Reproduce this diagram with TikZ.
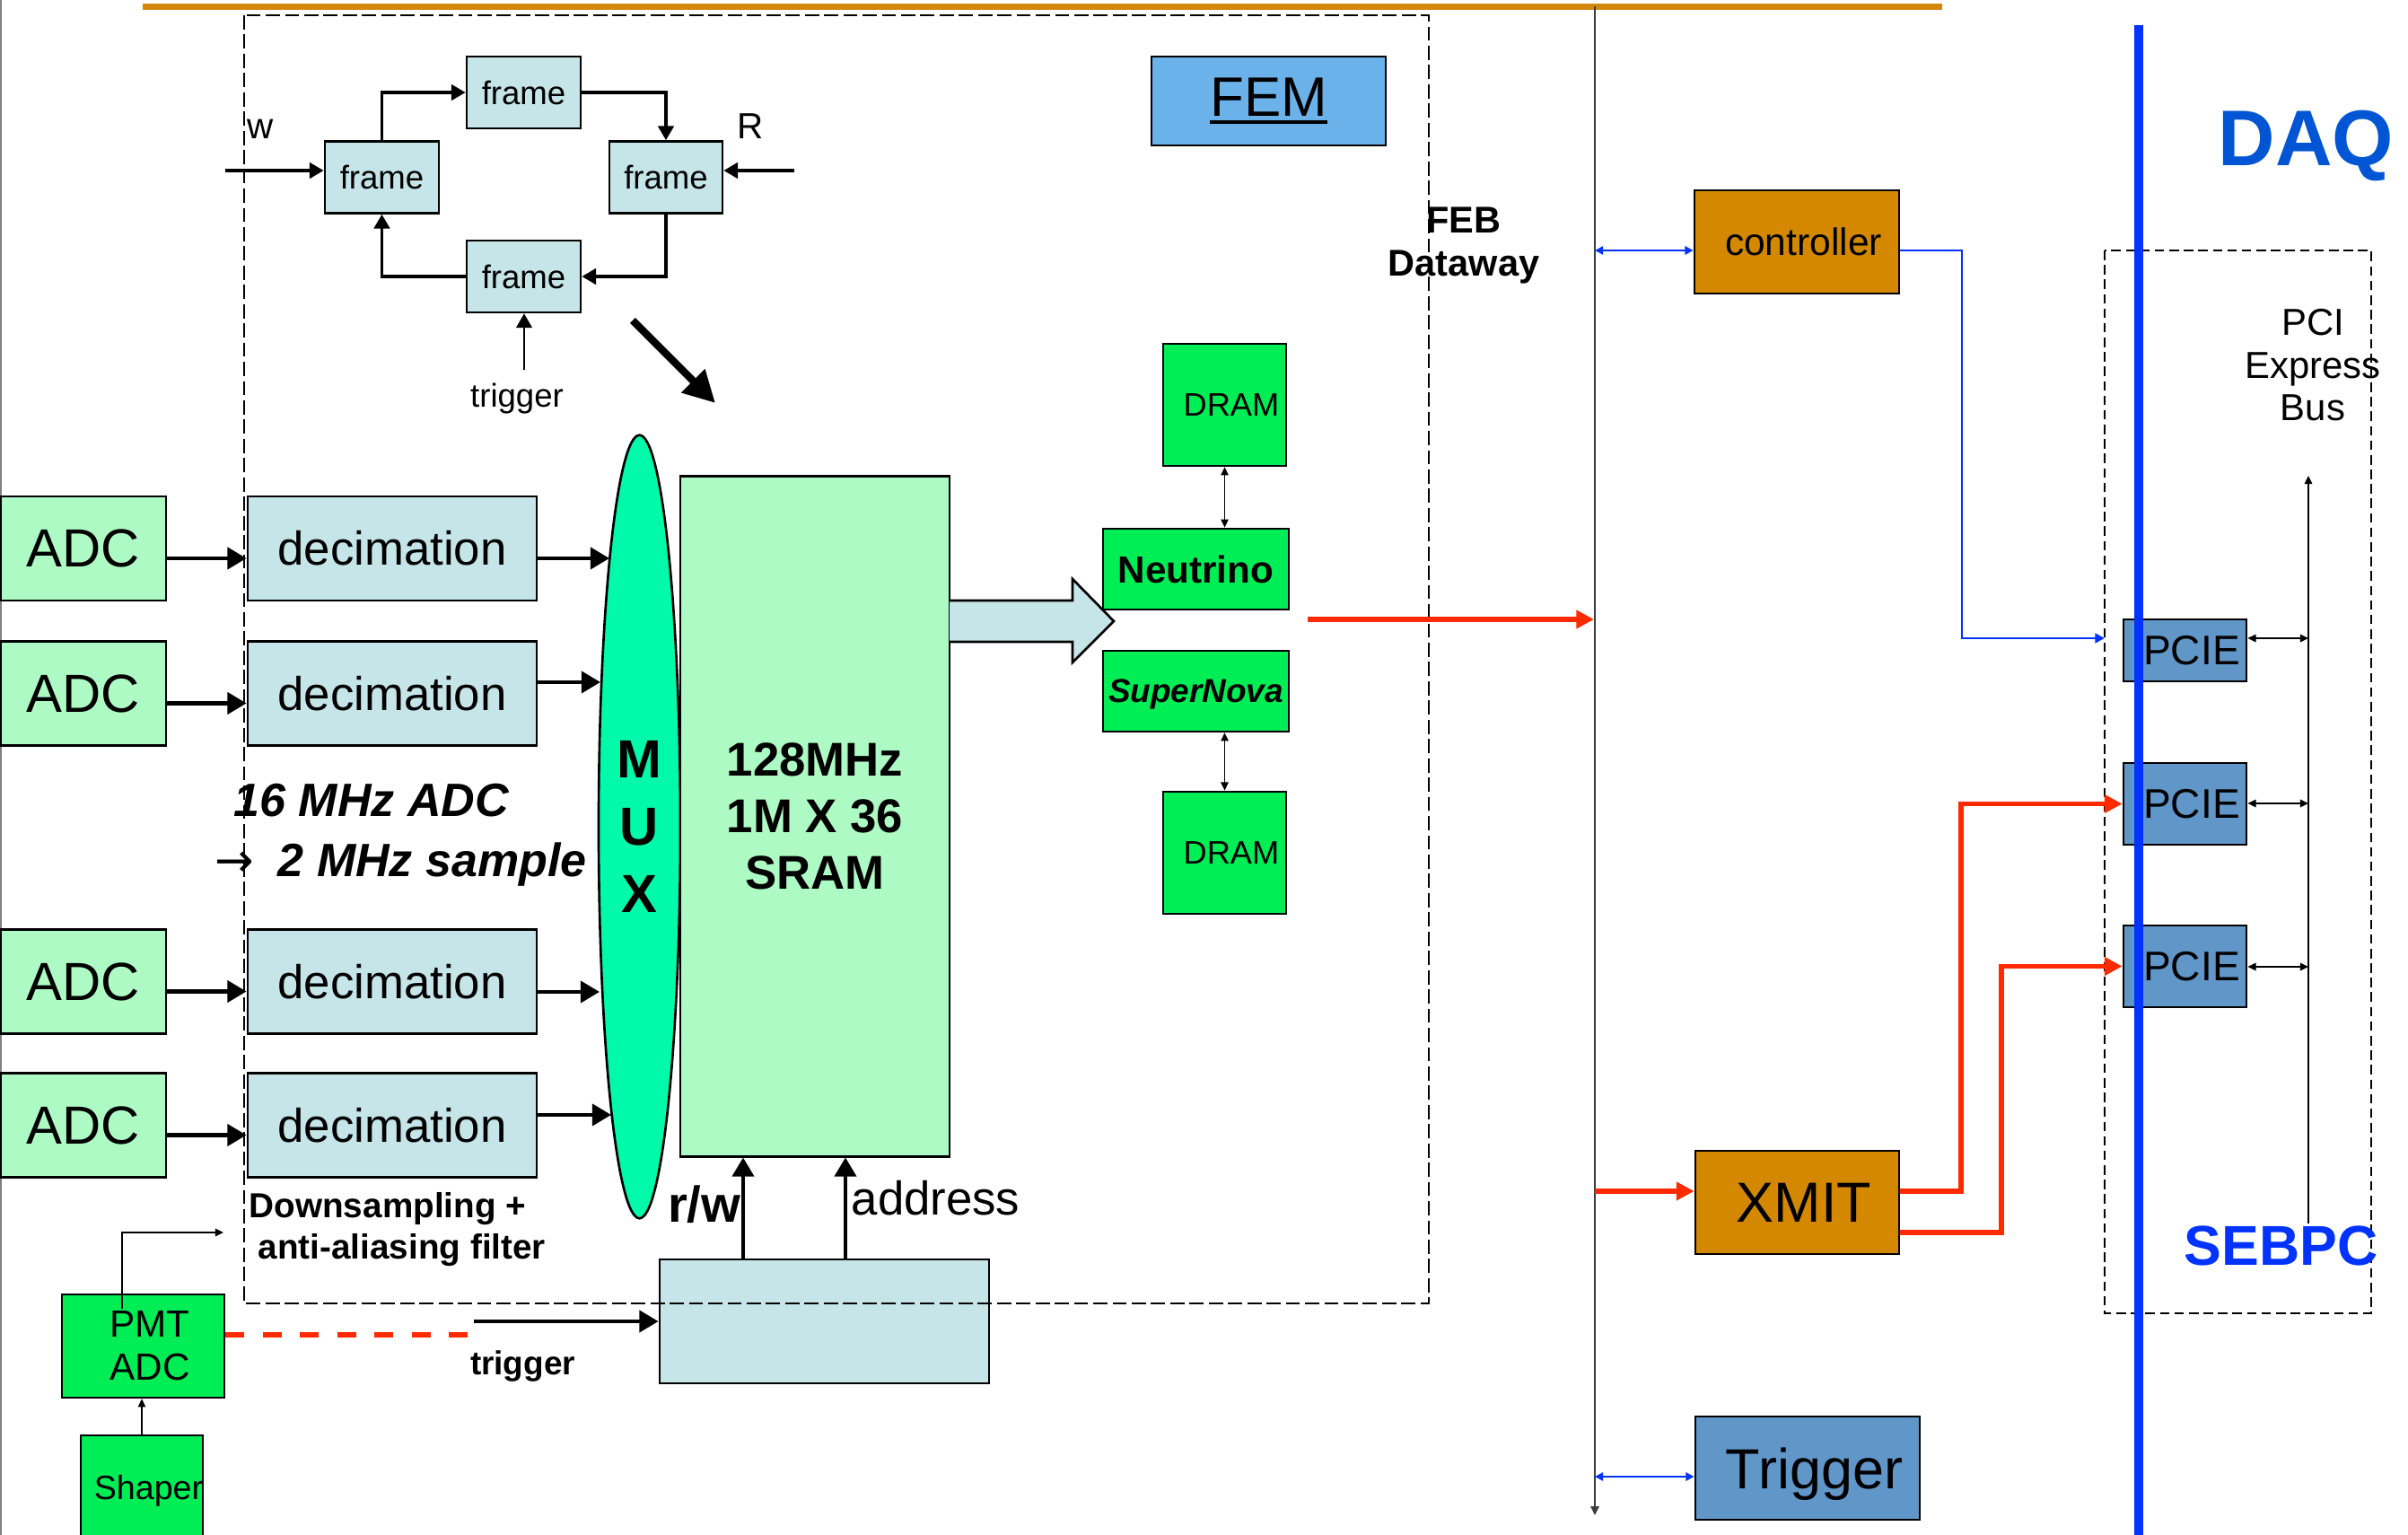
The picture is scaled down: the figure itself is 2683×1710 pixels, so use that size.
\documentclass[tikz,border=0pt]{standalone}
\usepackage{fontspec}
\setmainfont{Liberation Sans}
\newfontfamily\arrowfont{DejaVu Sans}
\usetikzlibrary{arrows.meta,shapes.geometric}

\definecolor{adcgreen}{RGB}{174,250,197}
\definecolor{paleblue}{RGB}{197,229,232}
\definecolor{muxgreen}{RGB}{0,250,170}
\definecolor{brightgreen}{RGB}{0,238,85}
\definecolor{femblue}{RGB}{108,178,234}
\definecolor{steelblue}{RGB}{96,150,200}
\definecolor{amber}{RGB}{211,136,0}
\definecolor{sigred}{RGB}{255,42,0}
\definecolor{linkblue}{RGB}{0,51,255}
\definecolor{daqblue}{RGB}{0,85,212}
\definecolor{topline}{RGB}{212,136,11}
\definecolor{wiregray}{RGB}{60,60,60}

\newcommand\fsz[2]{\fontsize{#1}{#2}\selectfont}
\newcommand\nudge{\hspace*{0.15cm}}
\newcommand\thickul[1]{\setbox0\hbox{#1}\rlap{\rule[-2.6pt]{\wd0}{1.2pt}}\box0}

\begin{document}
\begin{tikzpicture}[x=0.01cm, y=-0.01cm,
  box/.style={draw=black, line width=0.75pt, inner sep=0pt, align=center},
  fat/.style={line width=1.2pt, -{Triangle[length=6pt,width=6.8pt]}},
  ring/.style={line width=0.9pt, -{Triangle[length=4.5pt,width=5pt]}},
  thinarr/.style={line width=0.5pt, -{Triangle[length=2.6pt,width=2.4pt]}},
  thinboth/.style={line width=0.5pt, {Triangle[length=2.6pt,width=2.4pt]}-{Triangle[length=2.6pt,width=2.4pt]}},
  bluearr/.style={draw=linkblue, line width=0.8pt, -{Triangle[length=3pt,width=3pt]}},
  blueboth/.style={draw=linkblue, line width=0.8pt, {Triangle[length=2.6pt,width=2.6pt]}-{Triangle[length=2.6pt,width=2.6pt]}},
  redarr/.style={draw=sigred, line width=1.6pt, -{Triangle[length=5.6pt,width=5.6pt]}},
  lbl/.style={inner sep=0pt}]

\useasboundingbox (0,0) rectangle (2683,1710);

% page edge and header rule
\draw[gray, line width=0.6pt] (1,0) -- (1,1710);
\draw[topline, line width=2pt] (159,7.5) -- (2164,7.5);

% ---- frame ring buffer ----
\begin{scope}[every node/.style={box, fill=paleblue, minimum height=0.80cm, font=\fsz{10.4pt}{12pt}}]
  \node[minimum width=1.27cm] (fT) at (583.5,103) {frame};
  \node[minimum width=1.27cm] (fL) at (425.5,197.5) {frame};
  \node[minimum width=1.26cm] (fR) at (742,197.5) {frame};
  \node[minimum width=1.27cm] (fB) at (583.5,308) {frame};
\end{scope}
\draw[ring] (fL.north) |- (fT.west);
\draw[ring] (fT.east) -| (fR.north);
\draw[ring] (fR.south) |- (fB.east);
\draw[ring] (fB.west) -| (fL.south);
\coordinate (wIn) at (251,190);
\coordinate (rIn) at (885,190);
\coordinate (trIn) at (584,412);
\draw[ring] (wIn) -- (wIn -| fL.west);
\draw[ring] (rIn) -- (rIn -| fR.east);
\draw[ring, line width=0.6pt] (trIn) -- (trIn |- fB.south);
\node[lbl, anchor=base, font=\fsz{11.5pt}{13pt}] (wlab) at (290,155) {w};
\node[lbl, anchor=base, font=\fsz{11.5pt}{13pt}] (rlab) at (836,155) {R};
\node[lbl, anchor=base, font=\fsz{10.4pt}{12pt}] (trtop) at (576,454) {trigger};
\coordinate (diagA) at (705,357);
\coordinate (diagB) at (797,449);
\draw[line width=2.4pt, -{Triangle[length=10pt,width=10pt]}] (diagA) -- (diagB);

% ---- FEM title ----
\node[box, fill=femblue, minimum width=2.61cm, minimum height=0.99cm, font=\fsz{17.6pt}{20pt}] (fem) at (1413.5,112.5) {\thickul{FEM}};

% ---- ADC / decimation channels ----
\foreach \i/\y in {1/611,2/772.5,3/1093.5,4/1253.5} {
  \node[box, fill=adcgreen, minimum width=1.84cm, minimum height=1.16cm, font=\fsz{17pt}{20pt}] (adc\i) at (93,\y) {ADC};
  \node[box, fill=paleblue, minimum width=3.22cm, minimum height=1.16cm, font=\fsz{15pt}{18pt}] (dec\i) at (437,\y) {decimation};
  \draw[fat] ([yshift=-0.11cm]adc\i.east) -- ([yshift=-0.11cm]dec\i.west);
}

% ---- MUX and SRAM ----
\node[ellipse, draw=black, line width=0.75pt, fill=muxgreen, minimum width=0.91cm, minimum height=8.72cm,
      inner sep=0pt, align=center, font=\bfseries\fsz{17pt}{21.3pt}] (mux) at (712.5,921) {M\\U\\X};
\node[box, fill=adcgreen, minimum width=3.00cm, minimum height=7.57cm, font=\bfseries\fsz{15pt}{17.9pt}] (sram) at (908,909.5) {128MHz\\1M X 36\\SRAM};

\coordinate (m1) at (679,622);
\coordinate (m2) at (669,760);
\coordinate (m3) at (668,1105);
\coordinate (m4) at (681,1242);
\foreach \i in {1,2,3,4} { \draw[fat] (dec\i.east |- m\i) -- (m\i); }

\node[lbl, anchor=base west, font=\bfseries\itshape\fsz{14.8pt}{17pt}] (rate1) at (260,910) {16 MHz ADC};
\node[lbl, anchor=base west, font=\bfseries\itshape\fsz{14.8pt}{17pt}] (rate2) at (239,977) {{\arrowfont\mdseries\upshape →}\hspace{7.5pt}2 MHz sample};
\node[lbl, anchor=base west, font=\bfseries\fsz{11pt}{13pt}] (ds1) at (277,1357) {Downsampling +};
\node[lbl, anchor=base west, font=\bfseries\fsz{11pt}{13pt}] (ds2) at (287,1403) {anti-aliasing filter};

% ---- memory control ----
\node[box, fill=paleblue, minimum width=3.67cm, minimum height=1.38cm] (ctl) at (918.5,1472) {};
\coordinate (rwB) at (828,1403);
\coordinate (adB) at (942,1403);
\draw[fat] (rwB) -- (rwB |- sram.south);
\draw[fat] (adB) -- (adB |- sram.south);
\node[lbl, anchor=base east, font=\bfseries\fsz{16pt}{18pt}] (rwlab) at (826,1362) {r/w};
\node[lbl, anchor=base west, font=\fsz{15pt}{18pt}] (adlab) at (948,1354) {address};
\coordinate (tgB) at (528,1472);
\draw[fat] (tgB) -- (tgB -| ctl.west);
\node[lbl, anchor=base, font=\bfseries\fsz{10.5pt}{12pt}] (trbot) at (582.5,1532) {trigger};

% ---- PMT path ----
\node[box, fill=brightgreen, minimum width=1.81cm, minimum height=1.15cm, font=\fsz{12pt}{13.7pt}] (pmt) at (159.5,1499.5) {\nudge PMT\\\nudge ADC};
\node[box, fill=brightgreen, minimum width=1.36cm, minimum height=1.16cm, text depth=0pt, font=\fsz{10.7pt}{12pt}] (shaper) at (158,1657) {\nudge Shaper};
\draw[thinarr] (shaper.north) -- (shaper.north |- pmt.south);
\coordinate (pmtUp) at (136,1458);
\coordinate (pmtOut) at (249,1373);
\draw[thinarr] (pmtUp) |- (pmtOut);
\coordinate (pmtDash) at (522,1487);
\draw[sigred, line width=1.8pt, dash pattern=on 6pt off 5.8pt] (pmtDash -| pmt.east) -- (pmtDash);

% ---- Neutrino / SuperNova streams ----
\node[box, fill=brightgreen, minimum width=1.37cm, minimum height=1.36cm, font=\fsz{10.3pt}{12pt}] (dramT) at (1364.5,451) {\nudge DRAM};
\node[box, fill=brightgreen, minimum width=2.07cm, minimum height=0.90cm, font=\bfseries\fsz{12pt}{14pt}] (neu) at (1332.5,634) {Neutrino};
\node[box, fill=brightgreen, minimum width=2.07cm, minimum height=0.90cm, text depth=0pt, font=\bfseries\itshape\fsz{10.5pt}{12pt}] (sn) at (1332.5,770) {SuperNova};
\node[box, fill=brightgreen, minimum width=1.37cm, minimum height=1.36cm, font=\fsz{10.3pt}{12pt}] (dramB) at (1364.5,950) {\nudge DRAM};
\draw[thinboth] (dramT.south) -- (dramT.south |- neu.north);
\draw[thinboth] (dramB.north) -- (dramB.north |- sn.south);
\draw[line width=0.75pt, fill=paleblue, line join=miter]
  (1058,669) -- (1195,669) -- (1195,645) -- (1241,692) -- (1195,738) -- (1195,715) -- (1058,715);

% ---- FEM outline ----
\draw[black, line width=0.6pt, dash pattern=on 4.5pt off 1.6pt] (272,17) rectangle (1592,1452);
\node[lbl, anchor=north, align=center, font=\bfseries\fsz{11.8pt}{13.7pt}] (feb) at (1631,230) {FEB\\Dataway};

% ---- dataway bus ----
\coordinate (dwT) at (1777,7);
\coordinate (dwB) at (1777,1688);
\draw[wiregray, line width=0.7pt, -{Triangle[length=2.8pt,width=2.6pt]}] (dwT) -- (dwB);
\coordinate (nsOut) at (1457,690);
\coordinate (nsIn) at (1776,690);
\draw[redarr] (nsOut) -- (nsIn);

% ---- DAQ side ----
\node[box, fill=amber, minimum width=2.28cm, minimum height=1.15cm, font=\fsz{12.1pt}{14pt}] (ctrl) at (2002,269.5) {\nudge controller};
\node[box, fill=amber, minimum width=2.27cm, minimum height=1.15cm, font=\fsz{17.9pt}{20pt}] (xmit) at (2002.5,1339.5) {\nudge XMIT};
\node[box, fill=steelblue, minimum width=2.50cm, minimum height=1.15cm, text depth=0pt, font=\fsz{17.9pt}{20pt}] (trig) at (2014,1635.5) {\nudge Trigger};

\draw[black, line width=0.5pt, dash pattern=on 3pt off 1.6pt] (2345,279) rectangle (2642,1463);

\node[box, fill=steelblue, minimum width=1.37cm, minimum height=0.69cm, font=\fsz{13.1pt}{15pt}] (p1) at (2434.5,724.5) {\nudge PCIE};
\node[box, fill=steelblue, minimum width=1.37cm, minimum height=0.91cm, font=\fsz{13.1pt}{15pt}] (p2) at (2434.5,895.5) {\nudge PCIE};
\node[box, fill=steelblue, minimum width=1.37cm, minimum height=0.91cm, font=\fsz{13.1pt}{15pt}] (p3) at (2434.5,1076.5) {\nudge PCIE};

\coordinate (cIn) at (1777,279);
\draw[blueboth] (cIn) -- (cIn -| ctrl.west);
\coordinate (cTurn) at (2186,711);
\coordinate (p1In) at (2345,711);
\draw[bluearr] (cIn -| ctrl.east) -| (cTurn) -- (p1In);

\coordinate (tIn) at (1777,1645);
\draw[blueboth] (tIn) -- (tIn -| trig.west);

\coordinate (xIn) at (1777,1327);
\draw[redarr] (xIn) -- (xIn -| xmit.west);
\coordinate (xA) at (2185,1327);
\coordinate (xB) at (2230,1373);
\draw[redarr] (xA -| xmit.east) -- (xA) -- (xA |- p2.west) -- (p2.west);
\draw[redarr] (xB -| xmit.east) -- (xB) -- (xB |- p3.west) -- (p3.west);

\coordinate (busB) at (2572,1363);
\coordinate (busT) at (2572,530);
\draw[thinarr] (busB) -- (busT);
\foreach \k/\y in {1/711,2/895,3/1077} {
  \coordinate (pb\k) at (2572,\y);
  \draw[thinboth] (p\k.east |- pb\k) -- (pb\k);
}

\coordinate (daqT) at (2383,28);
\coordinate (daqB) at (2383,1710);
\draw[linkblue, line width=3.1pt] (daqT) -- (daqB);

\node[lbl, anchor=north, align=center, font=\fsz{11.9pt}{13.5pt}] (pcibus) at (2577,344) {PCI\\Express\\Bus};
\node[lbl, anchor=base, text=daqblue, font=\bfseries\fsz{25pt}{28pt}] (daq) at (2569.5,185) {DAQ};
\node[lbl, anchor=base, text=linkblue, font=\bfseries\fsz{17.8pt}{20pt}] (sebpc) at (2541.5,1410) {SEBPC};

\end{tikzpicture}
\end{document}
